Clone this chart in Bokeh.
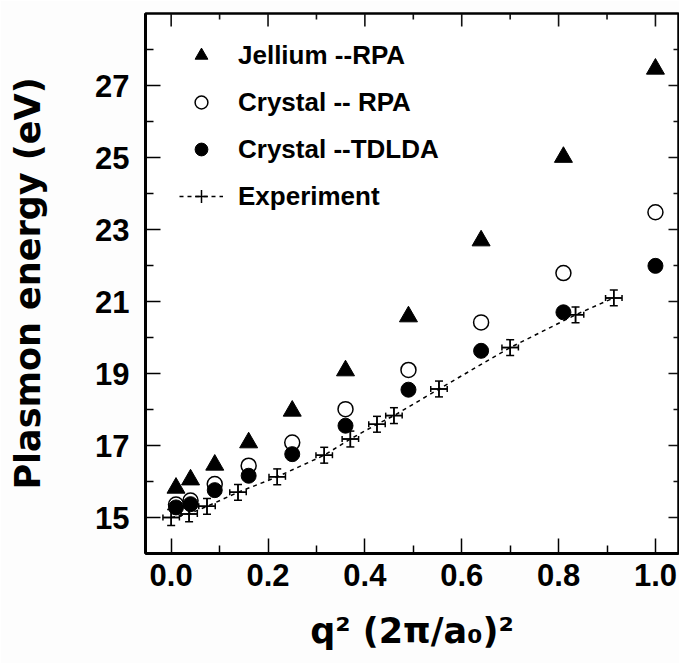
from bokeh.plotting import figure
from bokeh.models import (FixedTicker, Range1d, Whisker, TeeHead,
                          ColumnDataSource, Legend, LegendItem)
from bokeh.embed import file_html
from bokeh.resources import INLINE

# ---- data ----
q2 = [0.01, 0.04, 0.09, 0.16, 0.25, 0.36, 0.49, 0.64, 0.81, 1.00]
jellium_rpa = [15.82, 16.05, 16.46, 17.08, 17.96, 19.08, 20.58, 22.69, 25.01, 27.46]
crystal_rpa = [15.36, 15.47, 15.93, 16.44, 17.08, 18.01, 19.10, 20.42, 21.79, 23.48]
crystal_tdlda = [15.28, 15.37, 15.76, 16.16, 16.76, 17.55, 18.55, 19.63, 20.70, 21.99]

exp_q2 = [0.0, 0.037, 0.074, 0.138, 0.219, 0.316, 0.370, 0.425, 0.460, 0.553, 0.700, 0.835, 0.914]
exp_energy = [15.00, 15.10, 15.31, 15.70, 16.13, 16.73, 17.18, 17.59, 17.83, 18.57, 19.72, 20.63, 21.10]
exp_energy_err = [0.22, 0.22, 0.22, 0.22, 0.22, 0.22, 0.22, 0.22, 0.22, 0.22, 0.22, 0.22, 0.22]
exp_q2_err = [0.017, 0.017, 0.017, 0.017, 0.017, 0.017, 0.017, 0.017, 0.017, 0.017, 0.017, 0.017, 0.017]

x_ticks = [0.0, 0.2, 0.4, 0.6, 0.8, 1.0]
x_tick_labels = ["0.0", "0.2", "0.4", "0.6", "0.8", "1.0"]
x_minor = [0.1, 0.3, 0.5, 0.7, 0.9]
y_ticks = [15, 17, 19, 21, 23, 25, 27]
y_minor = [16, 18, 20, 22, 24, 26, 28]

X_START, X_END = -0.053, 1.0476
Y_START, Y_END = 14.0, 29.0

# layout (px)
W, H = 679, 663
B_LEFT, B_RIGHT, B_TOP, B_BOTTOM = 145, 1, 13, 110
FRAME_W = W - B_LEFT - B_RIGHT
FRAME_H = H - B_TOP - B_BOTTOM
X_PER_PX = (X_END - X_START) / FRAME_W
Y_PER_PX = (Y_END - Y_START) / FRAME_H

TICK_FONT = "Liberation Sans"
LABEL_FONT = "DejaVu Sans"

p = figure(width=W, height=H,
           x_range=Range1d(X_START, X_END), y_range=Range1d(Y_START, Y_END),
           output_backend="svg", toolbar_location=None,
           min_border_left=B_LEFT, min_border_right=B_RIGHT, min_border_top=B_TOP,
           min_border_bottom=B_BOTTOM)
p.outline_line_color = "black"
p.outline_line_width = 2.5
p.border_fill_color = "#fdfdfd"
p.background_fill_color = "white"
p.xgrid.grid_line_color = None
p.ygrid.grid_line_color = None

xa = p.xaxis[0]
xa.ticker = FixedTicker(ticks=x_ticks, minor_ticks=x_minor)
xa.major_label_overrides = {v: s for v, s in zip(x_ticks, x_tick_labels)}
xa.axis_label = "q² (2π/a₀)²"
xa.axis_label_text_font = LABEL_FONT
xa.axis_label_text_font_size = "35px"
xa.axis_label_text_font_style = "bold"
xa.axis_label_text_color = "black"
xa.axis_label_standoff = 22
xa.major_label_text_font = TICK_FONT
xa.major_label_text_font_size = "31px"
xa.major_label_text_font_style = "bold"
xa.major_label_text_color = "black"
xa.major_label_standoff = 10
xa.axis_line_width = 3
xa.major_tick_in = 15
xa.major_tick_out = 0
xa.minor_tick_in = 8
xa.minor_tick_out = 0
xa.major_tick_line_width = 1.5
xa.minor_tick_line_width = 1.5

ya = p.yaxis[0]
ya.ticker = FixedTicker(ticks=y_ticks, minor_ticks=y_minor)
ya.axis_label = "Plasmon energy (eV)"
ya.axis_label_text_font = LABEL_FONT
ya.axis_label_text_font_size = "35px"
ya.axis_label_text_font_style = "bold"
ya.axis_label_text_color = "black"
ya.axis_label_standoff = 44
ya.major_label_text_font = TICK_FONT
ya.major_label_text_font_size = "31px"
ya.major_label_text_font_style = "bold"
ya.major_label_text_color = "black"
ya.major_label_standoff = 16
ya.axis_line_width = 3
ya.major_tick_in = 15
ya.major_tick_out = 0
ya.minor_tick_in = 8
ya.minor_tick_out = 0
ya.major_tick_line_width = 1.5
ya.minor_tick_line_width = 1.5

# mirrored inward ticks on the top and right frame edges
p.segment(x0=[X_END] * len(y_ticks), y0=y_ticks,
          x1=[X_END - 10 * X_PER_PX] * len(y_ticks), y1=y_ticks,
          line_width=1.6, line_color="#111111")
p.segment(x0=[X_END] * len(y_minor), y0=y_minor,
          x1=[X_END - 5 * X_PER_PX] * len(y_minor), y1=y_minor,
          line_width=1.6, line_color="#111111")
p.segment(x0=x_ticks, y0=[Y_END] * len(x_ticks),
          x1=x_ticks, y1=[Y_END - 13 * Y_PER_PX] * len(x_ticks),
          line_width=1.6, line_color="#111111")
p.segment(x0=x_minor, y0=[Y_END] * len(x_minor),
          x1=x_minor, y1=[Y_END - 6 * Y_PER_PX] * len(x_minor),
          line_width=1.6, line_color="#111111")

# ---- experiment ----
src = ColumnDataSource(dict(
    x=exp_q2, y=exp_energy,
    y_lo=[e - d for e, d in zip(exp_energy, exp_energy_err)],
    y_hi=[e + d for e, d in zip(exp_energy, exp_energy_err)],
    x_lo=[q - d for q, d in zip(exp_q2, exp_q2_err)],
    x_hi=[q + d for q, d in zip(exp_q2, exp_q2_err)],
))
r_line = p.line("x", "y", source=src, line_dash="4 4", line_width=1.5, line_color="black")
wy = Whisker(source=src, base="x", lower="y_lo", upper="y_hi", dimension="height",
             line_width=1.5, line_color="black",
             upper_head=TeeHead(size=8, line_width=1.5, line_color="black"),
             lower_head=TeeHead(size=8, line_width=1.5, line_color="black"))
wx = Whisker(source=src, base="y", lower="x_lo", upper="x_hi", dimension="width",
             line_width=1.5, line_color="black",
             upper_head=TeeHead(size=6, line_width=1.5, line_color="black"),
             lower_head=TeeHead(size=6, line_width=1.5, line_color="black"))
p.add_layout(wy)
p.add_layout(wx)
r_cross = p.scatter("x", "y", source=src, marker="cross", size=16, line_width=1.5,
                    line_color="black")

# ---- theory ----
r_rpa = p.scatter(q2, crystal_rpa, marker="circle", size=15, fill_color=None,
                  line_color="black", line_width=1.5)
r_tdlda = p.scatter(q2, crystal_tdlda, marker="circle", size=15, fill_color="black",
                    line_color="black")
r_jel = p.scatter(q2, jellium_rpa, marker="triangle", size=18, fill_color="black",
                  line_color="black")

legend = Legend(items=[
    LegendItem(label="Jellium --RPA", renderers=[r_jel]),
    LegendItem(label="Crystal -- RPA", renderers=[r_rpa]),
    LegendItem(label="Crystal --TDLDA", renderers=[r_tdlda]),
    LegendItem(label="Experiment", renderers=[r_line, r_cross]),
], location=(34, 341), padding=0, margin=0, spacing=15,
    glyph_width=44, glyph_height=32, label_height=32, label_standoff=15,
    label_text_font=TICK_FONT, label_text_font_size="26px",
    label_text_font_style="bold", label_text_color="black",
    border_line_color=None, background_fill_alpha=0)
p.add_layout(legend)

open("out.html", "w").write(file_html(p, INLINE))
